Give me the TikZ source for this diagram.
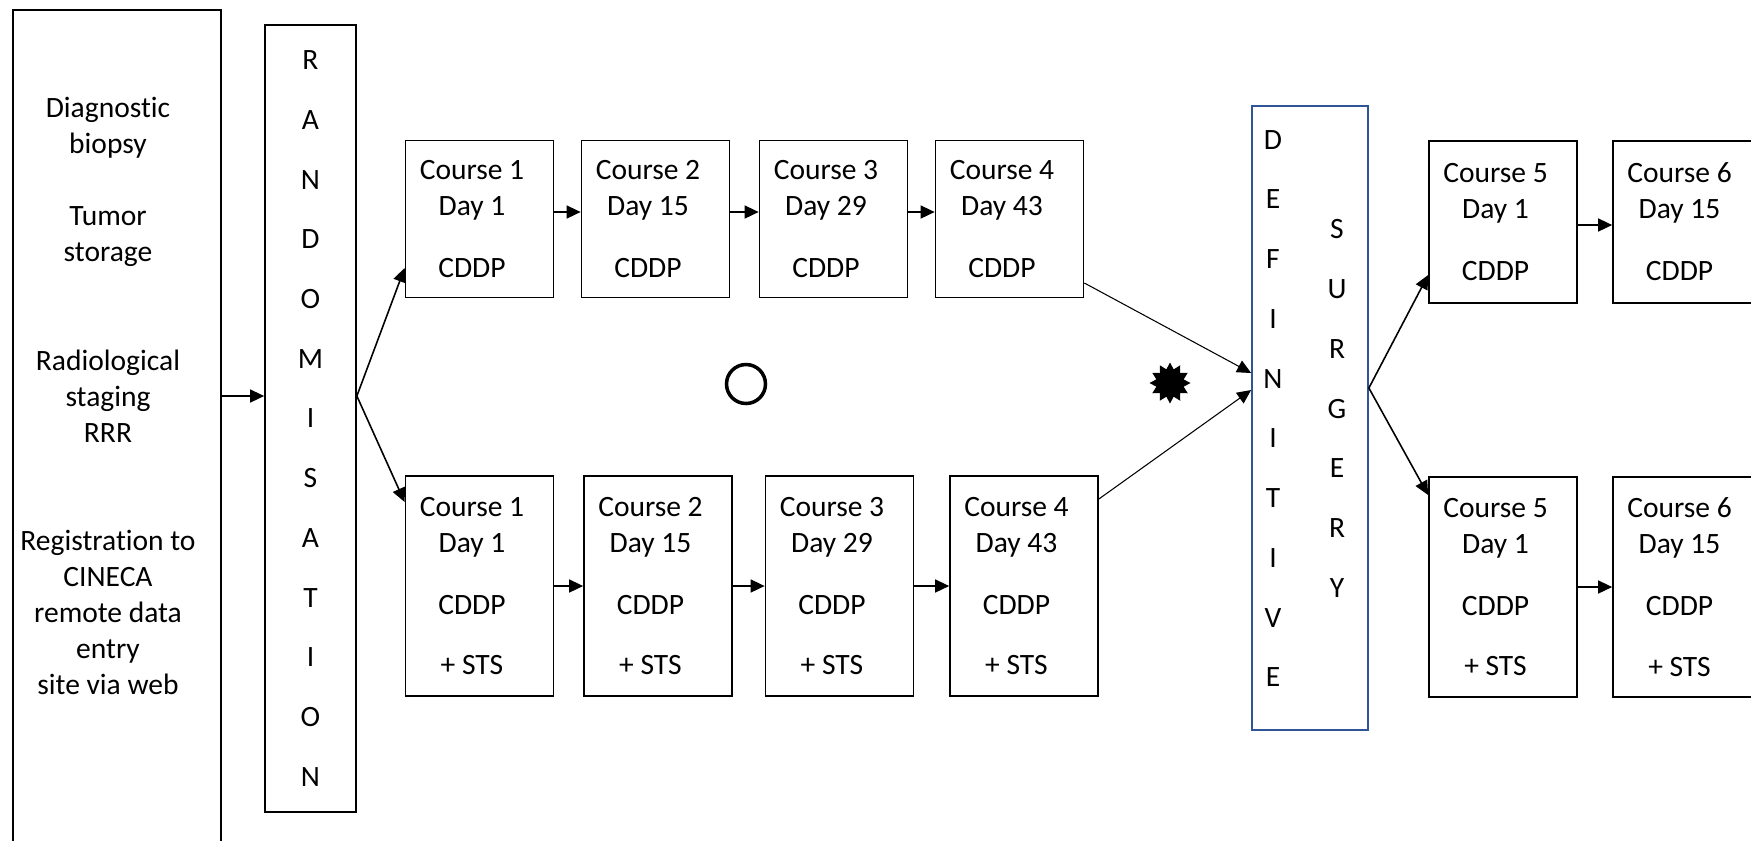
\documentclass[tikz,border=0pt]{standalone}
\usepackage{fontspec}
\setmainfont{Carlito}[Ligatures=CommonOff]
\usetikzlibrary{arrows.meta,shapes.geometric}
\definecolor{surgblue}{RGB}{47,85,151}
\newcommand{\boxfont}{\fontsize{16.8}{20.5}\selectfont}
\newcommand{\letterfont}{\fontsize{16.8}{34}\selectfont}
\tikzset{
  course/.style={draw=black, line width=1pt, minimum width=2.96cm,
                 text width=2.96cm, inner sep=0pt, align=flush center, font=\boxfont,
                 execute at begin node={\advance\rightskip by 0.3cm}},
  coursetop/.style={course, minimum height=3.14cm},
  coursebot/.style={course, minimum height=4.4cm},
  column/.style={draw=black, line width=1pt, inner sep=0pt},
  letters/.style={align=center, inner sep=0pt, font=\letterfont},
  flow/.style={-{Triangle[length=2.8mm,width=2.6mm]}, line width=0.9pt},
  thinflow/.style={flow, line width=0.6pt},
}

\begin{document}
\begin{tikzpicture}[x=0.02cm,y=-0.02cm]
  \path[use as bounding box] (0,0) rectangle (1751,840);

  % entry steps and randomisation
  \node[column, anchor=north, minimum width=4.16cm, minimum height=17.6cm]
    (prep) at (117,9) {};
  \node[align=center, inner sep=0pt, font=\boxfont] (preplist) at (108,396)
    {Diagnostic\\biopsy\\[20.5pt]
     Tumor\\storage\\[41pt]
     Radiological\\staging\\RRR\\[41pt]
     Registration to\\CINECA\\remote data\\entry\\site via web};
  \node[column, letters, minimum width=1.82cm, minimum height=15.74cm]
    (rand) at (310.5,418.5)
    {R\\A\\N\\D\\O\\M\\I\\S\\A\\T\\I\\O\\N};

  % arm without STS
  \node[coursetop] (c1a) at (479.5,219) {Course 1\\Day 1\\[14.8pt]CDDP};
  \node[coursetop] (c2a) at (655.5,219) {Course 2\\Day 15\\[14.8pt]CDDP};
  \node[coursetop] (c3a) at (833.5,219) {Course 3\\Day 29\\[14.8pt]CDDP};
  \node[coursetop] (c4a) at (1009.5,219) {Course 4\\Day 43\\[14.8pt]CDDP};

  % arm with STS
  \node[coursebot] (c1b) at (479.5,586) {Course 1\\Day 1\\[14.8pt]CDDP\\[14pt]+ STS};
  \node[coursebot] (c2b) at (658,586) {Course 2\\Day 15\\[14.8pt]CDDP\\[14pt]+ STS};
  \node[coursebot] (c3b) at (839.5,586) {Course 3\\Day 29\\[14.8pt]CDDP\\[14pt]+ STS};
  \node[coursebot] (c4b) at (1024,586) {Course 4\\Day 43\\[14.8pt]CDDP\\[14pt]+ STS};

  % arm symbols
  \node[circle, draw, line width=2pt, minimum size=0.78cm, inner sep=0pt]
    (armA) at (746,384) {};
  \node[star, star points=12, star point ratio=1.45, fill=black,
        minimum size=0.82cm, inner sep=0pt] (armB) at (1170,383) {};

  % surgery
  \node[column, draw=surgblue, minimum width=2.32cm, minimum height=12.48cm]
    (surg) at (1310,418) {};
  \node[letters] (defword) at (1273,408.5) {D\\E\\F\\I\\N\\I\\T\\I\\V\\E};
  \node[letters] (surgword) at (1337,408.5) {S\\U\\R\\G\\E\\R\\Y};

  % courses after surgery
  \node[coursetop, minimum height=3.24cm] (c5a) at (1503,222) {Course 5\\Day 1\\[14.8pt]CDDP};
  \node[coursetop, minimum height=3.24cm] (c6a) at (1687,222) {Course 6\\Day 15\\[14.8pt]CDDP};
  \node[coursebot] (c5b) at (1503,587) {Course 5\\Day 1\\[14.8pt]CDDP\\[14pt]+ STS};
  \node[coursebot] (c6b) at (1687,587) {Course 6\\Day 15\\[14.8pt]CDDP\\[14pt]+ STS};

  % connectors
  \coordinate (fork) at (rand.east |- 0,396);
  \draw[flow] (prep.east |- fork) -- (rand.west |- fork);
  \draw[flow] (fork) -- (c1a.west |- 0,268);
  \draw[flow] (fork) -- (c1b.west |- 0,502);

  \draw[flow] ([yshift=0.14cm]c1a.east) -- ([yshift=0.14cm]c2a.west);
  \draw[flow] ([yshift=0.14cm]c2a.east) -- ([yshift=0.14cm]c3a.west);
  \draw[flow] ([yshift=0.14cm]c3a.east) -- ([yshift=0.14cm]c4a.west);
  \draw[flow] (c1b.east) -- (c2b.west);
  \draw[flow] (c2b.east) -- (c3b.west);
  \draw[flow] (c3b.east) -- (c4b.west);

  \draw[thinflow] (c4a.east |- 0,283) -- (surg.west |- 0,373);
  \draw[thinflow] (c4b.east |- 0,499) -- (surg.west |- 0,390);

  \coordinate (fork2) at (surg.east |- 0,388);
  \draw[flow] (fork2) -- (c5a.west |- 0,275);
  \draw[flow] (fork2) -- (c5b.west |- 0,495);
  \draw[flow] (c5a.east |- 0,225) -- (c6a.west |- 0,225);
  \draw[flow] (c5b.east) -- (c6b.west);
\end{tikzpicture}
\end{document}
